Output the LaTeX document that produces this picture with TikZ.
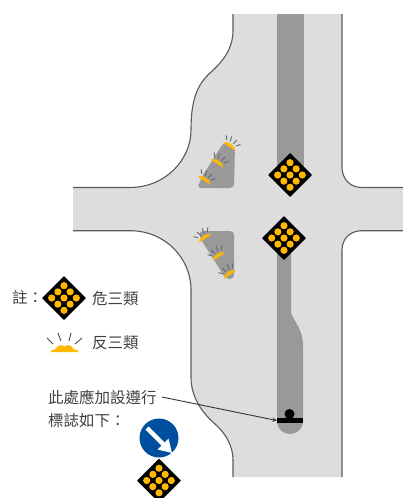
\documentclass[tikz,border=0pt]{standalone}
\usepackage{fontspec}
\newfontfamily\cjk{Noto Sans CJK TC}
\definecolor{roadgray}{HTML}{DDDDDD}
\definecolor{islandgray}{HTML}{999999}
\definecolor{curbgray}{HTML}{5A5A5A}
\definecolor{amber}{HTML}{FFB900}
\definecolor{signblue}{HTML}{004F9F}
\tikzset{
  curb/.style={draw=curbgray,line width=1.1pt},
  note/.style={inner sep=0pt,anchor=west,text=black!75,font=\cjk\fontsize{15.5}{15.5}\selectfont},
  leader/.style={draw=black!80,line width=.9pt,-stealth},
  pics/amberboard/.style={code={
    \fill[black,rounded corners=.6pt] (-22,0) -- (0,-22) -- (22,0) -- (0,22) -- cycle;
    \foreach \i in {-1,0,1} \foreach \j in {-1,0,1}
      \fill[amber] ({6.15*(\i+\j)},{6.15*(\i-\j)}) circle (3.6);
  }},
  pics/lamp/.style={code={
    \fill[amber] (-13.5,0) -- (-9,-1.5) .. controls (-7,-6) and (-2,-6) .. (0,-4)
      .. controls (2,-6) and (7,-6) .. (9,-1.5) -- (13.5,0) -- (13.5,1.5) -- (-13.5,1.5) -- cycle;
    \foreach \a/\b/\c/\d in {-17.5/-12.5/-11.5/-6.5,-6.5/-17.5/-3.5/-9.5,6.5/-17.5/4.5/-9.5,17.5/-12.5/10.5/-6.5}
      \draw[black!70,line width=.9pt] (\a,\b) -- (\c,\d);
  }},
  pics/smalllamp/.style={code={
    \fill[amber] (-7.5,2) .. controls (-5,-2.5) and (5,-2.5) .. (7.5,2) -- cycle;
    \foreach \a/\b/\c/\d in {-8.5/-6/-5.5/-2.5,-3.2/-8/-1.8/-3,3.2/-8/2/-3,8.5/-6/5.5/-2.5}
      \draw[black!60,line width=.9pt] (\a,\b) -- (\c,\d);
  }},
}
\begin{document}
\begin{tikzpicture}[x=1pt,y=-1pt]
  \useasboundingbox (0,0) rectangle (403,498);

  % road
  \fill[roadgray] (233,14) -- (342,14) -- (342,167) .. controls (342,179) and (350,187.5) .. (362,187.5)
    -- (403,187.5) -- (403,230.7) -- (362,230.7) .. controls (350,230.7) and (342,239) .. (342,250)
    -- (342,477) -- (233,477) -- (233,460) .. controls (233,445) and (225,433) .. (215,424)
    .. controls (205,415) and (191,400) .. (191,377) -- (191,290)
    .. controls (191,258) and (165,230.7) .. (130,230.7) -- (73,230.7) -- (73,187.5) -- (130,187.5)
    .. controls (165,187.5) and (191,160) .. (191,130)
    .. controls (191,100) and (197,85) .. (210,73) .. controls (222,62) and (233,50) .. (233,30) -- cycle;

  % curbs
  \draw[curb] (233,14) -- (233,30) .. controls (233,50) and (222,62) .. (210,73)
    .. controls (197,85) and (191,100) .. (191,130) .. controls (191,160) and (165,187.5) .. (130,187.5) -- (73,187.5);
  \draw[curb] (73,230.7) -- (130,230.7) .. controls (165,230.7) and (191,258) .. (191,290) -- (191,377)
    .. controls (191,400) and (205,415) .. (215,424) .. controls (225,433) and (233,445) .. (233,460) -- (233,477);
  \draw[curb] (342,14) -- (342,167) .. controls (342,179) and (350,187.5) .. (362,187.5) -- (403,187.5);
  \draw[curb] (403,230.7) -- (362,230.7) .. controls (350,230.7) and (342,239) .. (342,250) -- (342,477);

  % median
  \fill[islandgray] (277,14) rectangle (304,175);
  \fill[islandgray] (277,238) -- (291,238) -- (291,313) .. controls (295,323) and (303,330) .. (303,345)
    -- (303,421) .. controls (303,429) and (297,434) .. (290,434) .. controls (283,434) and (277,429) .. (277,421) -- cycle;

  % islands
  \fill[islandgray,rounded corners=4pt] (224,142) -- (235,147) -- (234,188) -- (197,188) -- (203,175) -- cycle;
  \fill[islandgray,rounded corners=4pt] (199,231) -- (234,231) -- (234,279) -- (226,279) -- (200,238) -- cycle;

  \pic[rotate=-33] at (230,145) {smalllamp};
  \pic[rotate=-33] at (218,162) {smalllamp};
  \pic[rotate=-33] at (205,179) {smalllamp};
  \pic[rotate=33] at (204,237) {smalllamp};
  \pic[rotate=33] at (218,255) {smalllamp};
  \pic[rotate=33] at (229,273) {smalllamp};

  \pic at (290,175) {amberboard};
  \pic at (284,238) {amberboard};

  % legend
  \node[note] (legendtitle) at (12,298) {註：};
  \pic at (64,298) {amberboard};
  \node[note] (amberlabel) at (92,299) {危三類};
  \pic at (64.5,350.5) {lamp};
  \node[note] (lamplabel) at (92,343) {反三類};

  % marker and note
  \node[fill=black,inner sep=0pt,minimum width=26pt,minimum height=4.5pt] (markerbar) at (290,420.5) {};
  \node[fill=black,circle,inner sep=0pt,minimum size=10pt] (markerball) at (289.5,414) {};
  \node[note] (noteone) at (48,397) {此處應加設遵行};
  \node[note] (notetwo) at (48,421) {標誌如下：};
  \draw[leader] (noteone.east)+(5,0) -- (markerbar.west);

  % sign below the note
  \fill[signblue] (159,438) circle (19.5);
  \draw[white,line width=4.5pt] (147,428) -- (164,445);
  \fill[white] (172,453) -- (168.5,438.5) -- (157.5,449.5) -- cycle;
  \pic at (159,480.5) {amberboard};
\end{tikzpicture}
\end{document}
